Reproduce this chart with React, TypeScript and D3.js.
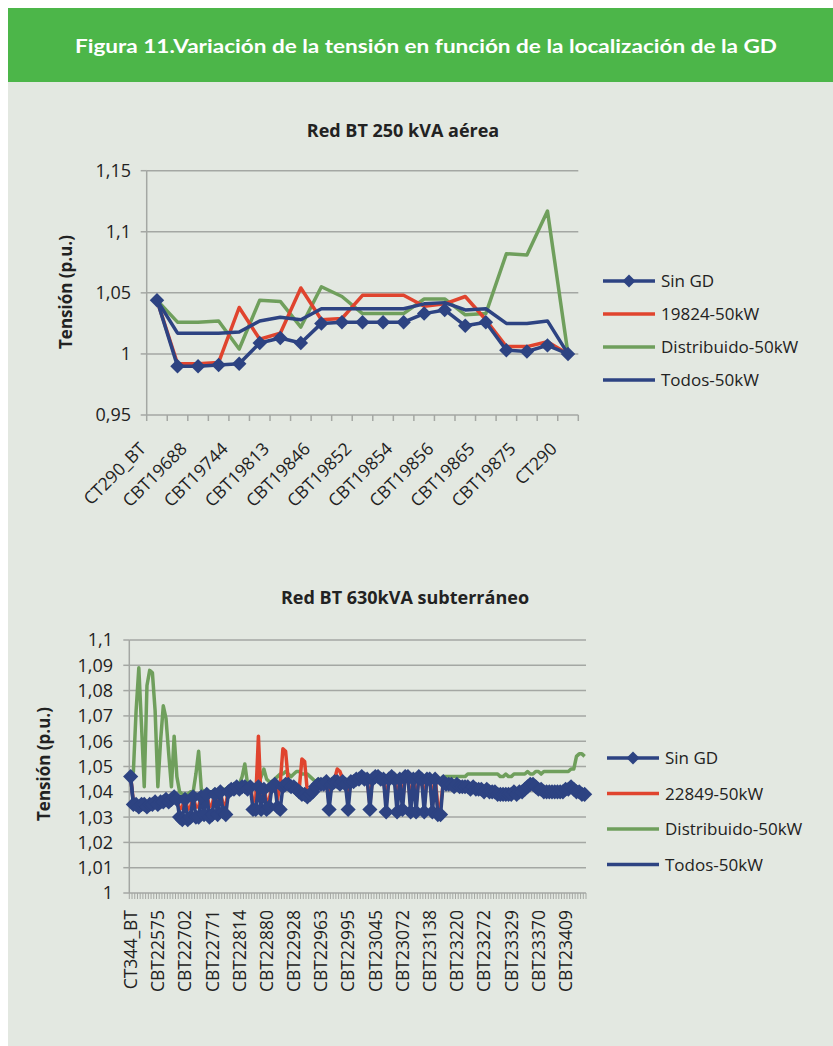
import React, { useRef, useEffect } from 'react';
import * as d3 from 'd3';

// Red BT 250 kVA aérea
const topTickLabels = ['CT290_BT', 'CBT19688', 'CBT19744', 'CBT19813', 'CBT19846', 'CBT19852', 'CBT19854', 'CBT19856', 'CBT19865', 'CBT19875', 'CT290'];
const topYTicks = [0.95, 1, 1.05, 1.1, 1.15];
const topYLabels = ['0,95', '1', '1,05', '1,1', '1,15'];
const topSinGD = [1.044, 0.990, 0.990, 0.991, 0.992, 1.009, 1.013, 1.009, 1.025, 1.026, 1.026, 1.026, 1.026, 1.033, 1.036, 1.023, 1.026, 1.003, 1.002, 1.007, 1.000];
const top19824 = [1.044, 0.992, 0.992, 0.993, 1.038, 1.012, 1.017, 1.054, 1.028, 1.029, 1.048, 1.048, 1.048, 1.039, 1.041, 1.047, 1.028, 1.006, 1.006, 1.010, 1.000];
const topDistribuido = [1.044, 1.026, 1.026, 1.027, 1.004, 1.044, 1.043, 1.022, 1.055, 1.047, 1.033, 1.033, 1.033, 1.045, 1.045, 1.032, 1.033, 1.082, 1.081, 1.117, 1.000];
const topTodos = [1.044, 1.017, 1.017, 1.017, 1.018, 1.027, 1.030, 1.028, 1.037, 1.037, 1.037, 1.037, 1.037, 1.041, 1.042, 1.036, 1.037, 1.025, 1.025, 1.027, 1.000];

// Red BT 630kVA subterráneo
const bottomTickLabels = ['CT344_BT', 'CBT22575', 'CBT22702', 'CBT22771', 'CBT22814', 'CBT22880', 'CBT22928', 'CBT22963', 'CBT22995', 'CBT23045', 'CBT23072', 'CBT23138', 'CBT23220', 'CBT23272', 'CBT23329', 'CBT23370', 'CBT23409'];
const bottomYTicks = [1, 1.01, 1.02, 1.03, 1.04, 1.05, 1.06, 1.07, 1.08, 1.09, 1.1];
const bottomYLabels = ['1', '1,01', '1,02', '1,03', '1,04', '1,05', '1,06', '1,07', '1,08', '1,09', '1,1'];
const bottomSinGD = [
  1.046, 1.035, 1.035, 1.034, 1.035, 1.035, 1.034, 1.035, 1.035, 1.036, 1.035, 1.036, 1.036, 1.037, 1.036, 1.037, 1.038, 1.037,
  1.030, 1.029, 1.037, 1.029, 1.030, 1.038, 1.030, 1.030, 1.038, 1.031, 1.039, 1.030, 1.031, 1.039, 1.031, 1.040, 1.032, 1.031, 1.040,
  1.041, 1.041, 1.042, 1.041, 1.042, 1.042, 1.041, 1.042,
  1.033, 1.033, 1.042, 1.033, 1.041, 1.033, 1.034, 1.042, 1.043, 1.034, 1.033, 1.042, 1.043,
  1.043, 1.042, 1.042, 1.041, 1.040, 1.039, 1.039, 1.038, 1.039, 1.040, 1.042, 1.043, 1.043,
  1.043, 1.044, 1.033, 1.043, 1.044, 1.044, 1.043, 1.044, 1.043, 1.033, 1.044, 1.044,
  1.045, 1.045, 1.046, 1.045, 1.045, 1.033, 1.045, 1.046, 1.046, 1.045, 1.045, 1.032, 1.045, 1.046, 1.045, 1.032, 1.045, 1.033,
  1.046, 1.046, 1.032, 1.045, 1.032, 1.046, 1.045, 1.032, 1.045, 1.045, 1.032, 1.045, 1.031, 1.031, 1.044,
  1.043, 1.043, 1.043, 1.042, 1.043, 1.042, 1.042, 1.042, 1.042, 1.041, 1.042, 1.041, 1.041, 1.041, 1.040, 1.041, 1.040, 1.040,
  1.040, 1.039, 1.039, 1.039, 1.039, 1.039, 1.039, 1.040, 1.039, 1.040, 1.040, 1.041, 1.042, 1.043, 1.043, 1.042, 1.041, 1.041,
  1.040, 1.040, 1.040, 1.040, 1.040, 1.040, 1.040, 1.040, 1.041, 1.041, 1.042, 1.041, 1.040, 1.040, 1.039, 1.039
];
const bottom22849 = [
  1.046, 1.036, 1.035, 1.035, 1.036, 1.035, 1.035, 1.036, 1.036, 1.036, 1.036, 1.037, 1.037, 1.037, 1.037, 1.038, 1.038, 1.038,
  1.033, 1.034, 1.038, 1.033, 1.034, 1.038, 1.034, 1.034, 1.039, 1.034, 1.039, 1.034, 1.035, 1.040, 1.035, 1.040, 1.035, 1.035, 1.041,
  1.041, 1.042, 1.042, 1.042, 1.042, 1.043, 1.042, 1.043,
  1.036, 1.037, 1.062, 1.036, 1.042, 1.036, 1.037, 1.043, 1.044, 1.037, 1.043, 1.057, 1.056,
  1.044, 1.043, 1.042, 1.041, 1.041, 1.053, 1.052, 1.040, 1.040, 1.041, 1.043, 1.044, 1.044,
  1.044, 1.044, 1.036, 1.044, 1.045, 1.049, 1.048, 1.045, 1.044, 1.036, 1.045, 1.045,
  1.046, 1.046, 1.047, 1.046, 1.045, 1.035, 1.046, 1.046, 1.047, 1.046, 1.046, 1.035, 1.046, 1.046, 1.046, 1.035, 1.046, 1.036,
  1.046, 1.046, 1.035, 1.046, 1.035, 1.046, 1.046, 1.035, 1.046, 1.046, 1.035, 1.046, 1.034, 1.034, 1.044,
  1.043, 1.043, 1.043, 1.042, 1.043, 1.042, 1.042, 1.042, 1.042, 1.041, 1.042, 1.041, 1.041, 1.041, 1.040, 1.041, 1.040, 1.040,
  1.040, 1.039, 1.039, 1.039, 1.039, 1.039, 1.039, 1.040, 1.039, 1.040, 1.040, 1.041, 1.042, 1.043, 1.043, 1.042, 1.041, 1.041,
  1.040, 1.040, 1.040, 1.040, 1.040, 1.040, 1.040, 1.040, 1.041, 1.041, 1.042, 1.041, 1.040, 1.040, 1.039, 1.039
];
const bottomDistribuido = [
  1.046, 1.048, 1.072, 1.089, 1.066, 1.042, 1.082, 1.088, 1.087, 1.072, 1.042, 1.060, 1.074, 1.069, 1.055, 1.042, 1.062, 1.046, 1.040, 1.039, 1.039,
  1.039, 1.040, 1.040, 1.047, 1.056, 1.041, 1.040, 1.040, 1.040, 1.040, 1.041, 1.040, 1.041, 1.041, 1.041, 1.042, 1.042, 1.042, 1.042, 1.043,
  1.046, 1.051, 1.043, 1.042, 1.042, 1.043, 1.043, 1.046, 1.049, 1.045, 1.044, 1.044, 1.045, 1.046, 1.047,
  1.047, 1.048, 1.047, 1.046, 1.047, 1.048, 1.048, 1.047, 1.047, 1.047, 1.046, 1.045, 1.044, 1.045, 1.044,
  1.044, 1.045, 1.044, 1.045, 1.045, 1.044, 1.045, 1.045, 1.045, 1.044, 1.045, 1.045,
  1.045, 1.045, 1.046, 1.045, 1.045, 1.045, 1.046, 1.046, 1.045, 1.045, 1.045, 1.045, 1.046, 1.045, 1.045, 1.045,
  1.045, 1.046, 1.045, 1.045, 1.045, 1.045, 1.046, 1.045, 1.045, 1.045, 1.045, 1.045, 1.045, 1.045, 1.045,
  1.045, 1.046, 1.046, 1.046, 1.046, 1.046, 1.046, 1.046, 1.046, 1.046, 1.047, 1.047, 1.047, 1.047, 1.047, 1.047, 1.047, 1.047,
  1.047, 1.047, 1.047, 1.047, 1.046, 1.046, 1.047, 1.046, 1.046, 1.047, 1.047, 1.047, 1.047, 1.047, 1.048, 1.047, 1.047, 1.048,
  1.048, 1.047, 1.048, 1.048, 1.048, 1.048, 1.048, 1.048, 1.048, 1.048, 1.048, 1.048, 1.049, 1.049, 1.054, 1.055, 1.055, 1.054
];
const bottomTodos = [
  1.046, 1.035, 1.035, 1.035, 1.035, 1.035, 1.035, 1.035, 1.036, 1.036, 1.036, 1.036, 1.036, 1.037, 1.037, 1.037, 1.037, 1.038,
  1.038, 1.038, 1.038, 1.038, 1.038, 1.039, 1.039, 1.039, 1.039, 1.039, 1.039, 1.040, 1.040, 1.040, 1.040, 1.040, 1.040, 1.041, 1.041,
  1.041, 1.041, 1.042, 1.042, 1.042, 1.042, 1.042, 1.042,
  1.042, 1.042, 1.042, 1.042, 1.042, 1.042, 1.043, 1.043, 1.043, 1.043, 1.043, 1.043, 1.043,
  1.043, 1.042, 1.042, 1.041, 1.040, 1.040, 1.039, 1.039, 1.040, 1.041, 1.042, 1.043, 1.043,
  1.043, 1.044, 1.044, 1.044, 1.044, 1.044, 1.044, 1.044, 1.044, 1.044, 1.044, 1.044,
  1.045, 1.045, 1.046, 1.045, 1.045, 1.045, 1.045, 1.046, 1.046, 1.045, 1.045, 1.045, 1.045, 1.046, 1.045, 1.045, 1.045, 1.045,
  1.046, 1.046, 1.045, 1.045, 1.045, 1.046, 1.045, 1.045, 1.045, 1.045, 1.045, 1.045, 1.044, 1.044, 1.044,
  1.043, 1.043, 1.043, 1.042, 1.043, 1.042, 1.042, 1.042, 1.042, 1.041, 1.042, 1.041, 1.041, 1.041, 1.040, 1.041, 1.040, 1.040,
  1.040, 1.039, 1.039, 1.039, 1.039, 1.039, 1.039, 1.040, 1.039, 1.040, 1.040, 1.041, 1.042, 1.043, 1.043, 1.042, 1.041, 1.041,
  1.040, 1.040, 1.040, 1.040, 1.040, 1.040, 1.040, 1.040, 1.041, 1.041, 1.042, 1.041, 1.040, 1.040, 1.039, 1.039
];

const NAVY = '#2d4382';
const RED = '#e0442e';
const GREEN = '#6f9f5c';
const FONT = "'Open Sans', 'Noto Sans', sans-serif";
const TEXT = '#222222';
const GRID = '#a4a7a3';

const drawChart = (svg, c) => {
  const g = svg.append('g');
  const x = d3.scaleBand().domain(d3.range(c.n)).range([c.left, c.right]);
  const y = d3.scaleLinear().domain(c.yDomain).range([c.bottom, c.top]);
  const cx = (i) => x(i) + x.bandwidth() / 2;

  // gridlines
  g.selectAll('.grid').data(c.yTicks).enter().append('line')
    .attr('x1', c.left).attr('x2', c.right)
    .attr('y1', d => y(d)).attr('y2', d => y(d))
    .attr('stroke', GRID).attr('stroke-width', 1.5);

  // y axis + ticks
  g.append('line').attr('x1', c.left).attr('x2', c.left)
    .attr('y1', c.top).attr('y2', c.bottom)
    .attr('stroke', GRID).attr('stroke-width', 1.5);
  g.selectAll('.ytick').data(c.yTicks).enter().append('line')
    .attr('x1', c.left - 6).attr('x2', c.left)
    .attr('y1', d => y(d)).attr('y2', d => y(d))
    .attr('stroke', GRID).attr('stroke-width', 1.5);
  g.selectAll('.ylab').data(c.yTicks).enter().append('text')
    .attr('x', c.yLabelX).attr('y', d => y(d)).attr('dy', '0.36em')
    .attr('text-anchor', 'end').attr('font-family', FONT)
    .attr('font-size', c.yLabelSize).attr('fill', TEXT)
    .text((d, i) => c.yLabels[i]);

  // x axis ticks at category edges
  const edges = d3.range(c.n + 1).map(i => c.left + i * x.step());
  g.selectAll('.xtick').data(edges).enter().append('line')
    .attr('x1', d => d).attr('x2', d => d)
    .attr('y1', c.bottom).attr('y2', c.bottom + c.tickLen)
    .attr('stroke', GRID).attr('stroke-width', c.tickWidth);

  // x labels
  g.selectAll('.xlab').data(c.tickLabels).enter().append('text')
    .attr('transform', (d, k) => {
      const i = k * c.labelEvery;
      return `translate(${cx(i) + c.labelDx},${c.bottom + c.labelDy}) rotate(${c.labelAngle})`;
    })
    .attr('text-anchor', 'end').attr('dy', c.labelAngle === -90 ? '0.36em' : 0)
    .attr('font-family', FONT).attr('font-size', c.xLabelSize).attr('fill', TEXT)
    .text(d => d);

  // series
  const line = d3.line().x((d, i) => cx(i)).y(d => y(d));
  const diamond = d3.symbol().type(d3.symbolSquare).size(c.markerSize);
  c.drawOrder.forEach(s => {
    g.append('path').attr('d', line(s.values))
      .attr('fill', 'none').attr('stroke', s.color)
      .attr('stroke-width', c.lineWidth).attr('stroke-linejoin', 'round');
    if (s.marker) {
      g.selectAll(null).data(s.values).enter().append('path')
        .attr('d', diamond)
        .attr('transform', (d, i) => `translate(${cx(i)},${y(d)}) rotate(45)`)
        .attr('fill', s.color);
    }
  });

  // legend
  c.legend.forEach((s, k) => {
    const ly = c.legendY + k * c.legendStep;
    g.append('line').attr('x1', c.legendX).attr('x2', c.legendX + 52)
      .attr('y1', ly).attr('y2', ly)
      .attr('stroke', s.color).attr('stroke-width', 3.5);
    if (s.marker) {
      g.append('path').attr('d', d3.symbol().type(d3.symbolSquare).size(85)())
        .attr('transform', `translate(${c.legendX + 26},${ly}) rotate(45)`)
        .attr('fill', s.color);
    }
    g.append('text').attr('x', c.legendX + 58).attr('y', ly).attr('dy', '0.36em')
      .attr('font-family', FONT).attr('font-size', 17).attr('fill', TEXT)
      .text(s.name);
  });

  // titles
  g.append('text').attr('x', c.titleX).attr('y', c.titleY)
    .attr('text-anchor', 'middle').attr('font-family', FONT)
    .attr('font-weight', 'bold').attr('font-size', 18).attr('fill', TEXT)
    .text(c.title);
  g.append('text')
    .attr('transform', `translate(${c.yTitleX},${c.yTitleY}) rotate(-90)`)
    .attr('text-anchor', 'middle').attr('dy', '0.36em').attr('font-family', FONT)
    .attr('font-weight', 'bold').attr('font-size', 17).attr('fill', TEXT)
    .text('Tensión (p.u.)');
};

const App = () => {
  const ref = useRef(null);

  useEffect(() => {
    const svg = d3.select(ref.current);
    svg.selectAll('*').remove();

    svg.append('rect').attr('width', 833).attr('height', 1046).attr('fill', '#ffffff');
    svg.append('rect').attr('x', 8).attr('y', 82).attr('width', 825).attr('height', 964).attr('fill', '#e3e8e1');
    svg.append('rect').attr('x', 8).attr('y', 8).attr('width', 825).attr('height', 74).attr('fill', '#4cb649');
    svg.append('text').attr('x', 426).attr('y', 53)
      .attr('text-anchor', 'middle').attr('font-family', "Lato, 'Open Sans', sans-serif")
      .attr('font-weight', 'bold').attr('font-size', 19).attr('fill', '#ffffff')
      .attr('textLength', 702).attr('lengthAdjust', 'spacingAndGlyphs')
      .text('Figura 11.Variación de la tensión en función de la localización de la GD');

    const topSeries = {
      sin: { name: 'Sin GD', values: topSinGD, color: NAVY, marker: true },
      red: { name: '19824-50kW', values: top19824, color: RED },
      dis: { name: 'Distribuido-50kW', values: topDistribuido, color: GREEN },
      tod: { name: 'Todos-50kW', values: topTodos, color: NAVY },
    };
    drawChart(svg, {
      n: topSinGD.length, left: 146.7, right: 578.3, top: 170.7, bottom: 415,
      yDomain: [0.95, 1.15], yTicks: topYTicks, yLabels: topYLabels, yLabelX: 131, yLabelSize: 18,
      tickLen: 6, tickWidth: 1.5,
      tickLabels: topTickLabels, labelEvery: 2, labelAngle: -45, labelDx: -10, labelDy: 35, xLabelSize: 17.5,
      lineWidth: 3.5, markerSize: 105,
      drawOrder: [topSeries.dis, topSeries.red, topSeries.tod, topSeries.sin],
      legend: [topSeries.sin, topSeries.red, topSeries.dis, topSeries.tod],
      legendX: 603, legendY: 281, legendStep: 33,
      title: 'Red BT 250 kVA aérea', titleX: 403, titleY: 137,
      yTitleX: 66, yTitleY: 292,
    });

    const botSeries = {
      sin: { name: 'Sin GD', values: bottomSinGD, color: NAVY, marker: true },
      red: { name: '22849-50kW', values: bottom22849, color: RED },
      dis: { name: 'Distribuido-50kW', values: bottomDistribuido, color: GREEN },
      tod: { name: 'Todos-50kW', values: bottomTodos, color: NAVY },
    };
    drawChart(svg, {
      n: bottomSinGD.length, left: 129.3, right: 586, top: 640, bottom: 893,
      yDomain: [1, 1.1], yTicks: bottomYTicks, yLabels: bottomYLabels, yLabelX: 113, yLabelSize: 18,
      tickLen: 6, tickWidth: 1,
      tickLabels: bottomTickLabels, labelEvery: 10, labelAngle: -90, labelDx: 0, labelDy: 17, xLabelSize: 17.5,
      lineWidth: 3.5, markerSize: 115,
      drawOrder: [botSeries.dis, botSeries.red, botSeries.tod, botSeries.sin],
      legend: [botSeries.sin, botSeries.red, botSeries.dis, botSeries.tod],
      legendX: 607, legendY: 758, legendStep: 35.5,
      title: 'Red BT 630kVA subterráneo', titleX: 405, titleY: 604,
      yTitleX: 44, yTitleY: 764,
    });
  }, []);

  return (
    <div style={{ position: 'absolute', left: 0, top: 0 }}>
      <svg ref={ref} width={833} height={1046} style={{ display: 'block' }}></svg>
    </div>
  );
};

export default App;
